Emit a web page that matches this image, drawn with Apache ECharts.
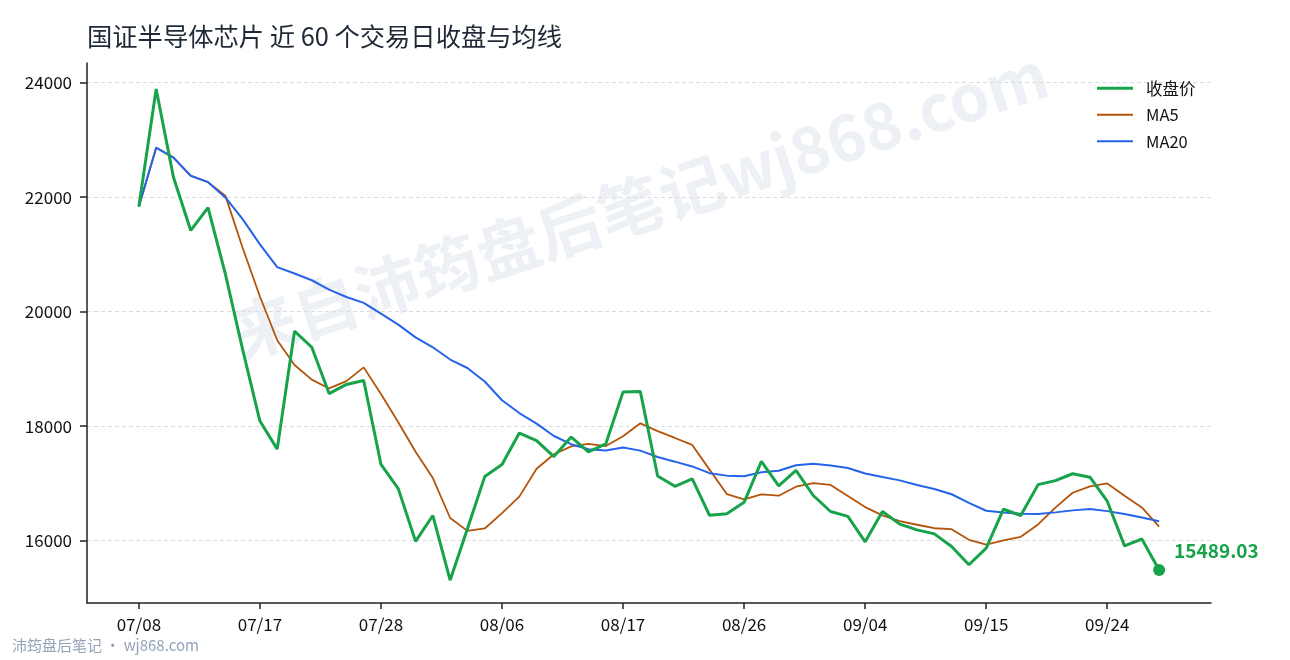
<!DOCTYPE html>
<html>
<head>
<meta charset="utf-8">
<title>国证半导体芯片 近 60 个交易日收盘与均线</title>
<script src="https://cdn.jsdelivr.net/npm/echarts@6/dist/echarts.min.js"></script>
<style>
  html, body { margin: 0; padding: 0; background: #fff; }
  #main { width: 1290px; height: 660px; }
</style>
</head>
<body>
<div id="main"></div>
<script>
// 交易日（周末跳过）
var dates = [
  '07/08', '07/09', '07/10',
  '07/13', '07/14', '07/15', '07/16', '07/17',
  '07/20', '07/21', '07/22', '07/23', '07/24',
  '07/27', '07/28', '07/29', '07/30', '07/31',
  '08/03', '08/04', '08/05', '08/06', '08/07',
  '08/10', '08/11', '08/12', '08/13', '08/14',
  '08/17', '08/18', '08/19', '08/20', '08/21',
  '08/24', '08/25', '08/26', '08/27', '08/28',
  '08/31', '09/01', '09/02', '09/03', '09/04',
  '09/07', '09/08', '09/09', '09/10', '09/11',
  '09/14', '09/15', '09/16', '09/17', '09/18',
  '09/21', '09/22', '09/23', '09/24', '09/25',
  '09/28', '09/29'
];

// 收盘价
var closePrice = [
  21840, 23890, 22350, 21420, 21820, 20660, 19340, 18090, 17600, 19660,
  19380, 18570, 18730, 18800, 17335, 16910, 15990, 16440, 15310, 16210,
  17120, 17330, 17880, 17750, 17470, 17810, 17550, 17690, 18600, 18605,
  17130, 16950, 17080, 16445, 16470, 16670, 17385, 16960, 17230, 16790,
  16510, 16425, 15980, 16510, 16290, 16190, 16120, 15900, 15580, 15870,
  16550, 16440, 16980, 17050, 17170, 17110, 16690, 15910, 16030, 15489.03
];

var ma5 = [
  21840, 22865, 22693, 22375, 22264, 22028, 21118, 20266, 19502, 19070,
  18814, 18660, 18788, 19028, 18563, 18069, 17553, 17095, 16397, 16172,
  16214, 16482, 16770, 17258, 17510, 17648, 17692, 17654, 17824, 18051,
  17915, 17795, 17673, 17242, 16815, 16723, 16810, 16786, 16943, 17007,
  16975, 16783, 16587, 16443, 16343, 16279, 16218, 16202, 16016, 15932,
  16004, 16068, 16284, 16578, 16838, 16950, 17000, 16786, 16582, 16246
];

var ma20 = [
  21840, 22865, 22693, 22375, 22264, 21997, 21617, 21176, 20779, 20667,
  20550, 20385, 20258, 20154, 19966, 19775, 19552, 19379, 19165, 19017,
  18781, 18453, 18230, 18046, 17829, 17686, 17597, 17577, 17627, 17574,
  17462, 17381, 17298, 17180, 17137, 17125, 17195, 17221, 17317, 17346,
  17315, 17270, 17175, 17113, 17054, 16973, 16902, 16812, 16661, 16524,
  16495, 16470, 16465, 16495, 16530, 16552, 16517, 16465, 16405, 16340
];

// 刻度
var xTickIdx = [0, 7, 14, 21, 28, 35, 42, 49, 56];
var yTicks = [16000, 18000, 20000, 22000, 24000];

var FONT = '"Noto Sans CJK SC", "Noto Sans", sans-serif';
var GREEN = '#16a34a', ORANGE = '#b45309', BLUE = '#2563eb';
var THIN_LINE = 'path://M0,0H36V2H0Z'; // 图例细线

function toPairs(arr) {
  return arr.map(function (v, i) { return [i, v]; });
}

var closeData = toPairs(closePrice);
var lastIdx = closeData.length - 1;
closeData[lastIdx] = {
  value: closeData[lastIdx],
  symbol: 'circle',
  symbolSize: 12,
  label: {
    show: true,
    position: 'right',
    distance: 9,
    offset: [0, -19],
    formatter: function (p) { return p.value[1].toFixed(2); },
    color: GREEN,
    fontWeight: 'bold',
    fontSize: 19,
    fontFamily: FONT
  }
};

var chart = echarts.init(document.getElementById('main'));

var option = {
  animation: false,
  backgroundColor: '#fff',
  title: {
    text: '国证半导体芯片 近 60 个交易日收盘与均线',
    left: 82,
    top: 19,
    textStyle: { fontFamily: FONT, fontSize: 25.3, fontWeight: 'normal', color: '#1f2937' }
  },
  tooltip: { trigger: 'axis' },
  legend: {
    orient: 'vertical',
    left: 1092,
    top: 75,
    itemWidth: 36,
    itemHeight: 3,
    itemGap: 10,
    symbolKeepAspect: true,
    textStyle: { fontFamily: FONT, fontSize: 16.5, color: '#111', padding: [0, 0, 0, 8] },
    data: [
      { name: '收盘价', icon: 'rect' },
      { name: 'MA5', icon: THIN_LINE },
      { name: 'MA20', icon: THIN_LINE }
    ]
  },
  grid: { left: 87, right: 79, top: 63, bottom: 57 },
  xAxis: {
    type: 'value',
    min: -3,
    max: 62,
    axisLine: { show: true, onZero: false, lineStyle: { color: '#222', width: 1.5 } },
    axisTick: { show: true, length: 6, lineStyle: { color: '#222', width: 1.5 }, customValues: xTickIdx },
    axisLabel: {
      customValues: xTickIdx,
      margin: 13,
      fontFamily: FONT,
      fontSize: 17,
      color: '#111',
      formatter: function (v) { return dates[Math.round(v)] || ''; }
    },
    splitLine: { show: false }
  },
  yAxis: {
    type: 'value',
    min: 14912,
    max: 24345,
    axisLine: { show: true, onZero: false, lineStyle: { color: '#222', width: 1.5 } },
    axisTick: { show: true, length: 7, lineStyle: { color: '#222', width: 1.5 }, customValues: yTicks },
    axisLabel: {
      customValues: yTicks,
      margin: 15,
      fontFamily: FONT,
      fontSize: 17,
      color: '#111',
      formatter: function (v) { return String(v); }
    },
    splitLine: { show: true, lineStyle: { color: '#dcdcdc', type: [4, 3], width: 1 } }
  },
  graphic: [
    {
      type: 'text',
      x: 640,
      y: 204,
      rotation: 0.315,
      z: 0,
      silent: true,
      style: {
        text: '来自沛筠盘后笔记wj868.com',
        x: 0,
        y: 0,
        align: 'center',
        verticalAlign: 'middle',
        fontFamily: FONT,
        fontSize: 64,
        fontWeight: 'bold',
        fill: 'rgba(203,213,225,0.35)'
      }
    },
    {
      type: 'text',
      left: 12,
      top: 638,
      silent: true,
      style: {
        text: '沛筠盘后笔记 · wj868.com',
        fontFamily: FONT,
        fontSize: 15,
        fill: '#94a3b8'
      }
    }
  ],
  series: [
    {
      name: '收盘价',
      type: 'line',
      data: closeData,
      symbol: 'none',
      z: 4,
      lineStyle: { color: GREEN, width: 3 },
      itemStyle: { color: GREEN }
    },
    {
      name: 'MA5',
      type: 'line',
      data: toPairs(ma5),
      symbol: 'none',
      z: 3,
      lineStyle: { color: ORANGE, width: 1.8 },
      itemStyle: { color: ORANGE }
    },
    {
      name: 'MA20',
      type: 'line',
      data: toPairs(ma20),
      symbol: 'none',
      z: 3,
      lineStyle: { color: BLUE, width: 2 },
      itemStyle: { color: BLUE }
    }
  ]
};

chart.setOption(option, true);
window.addEventListener('resize', function () {
  chart.resize();
});
</script>
</body>
</html>
